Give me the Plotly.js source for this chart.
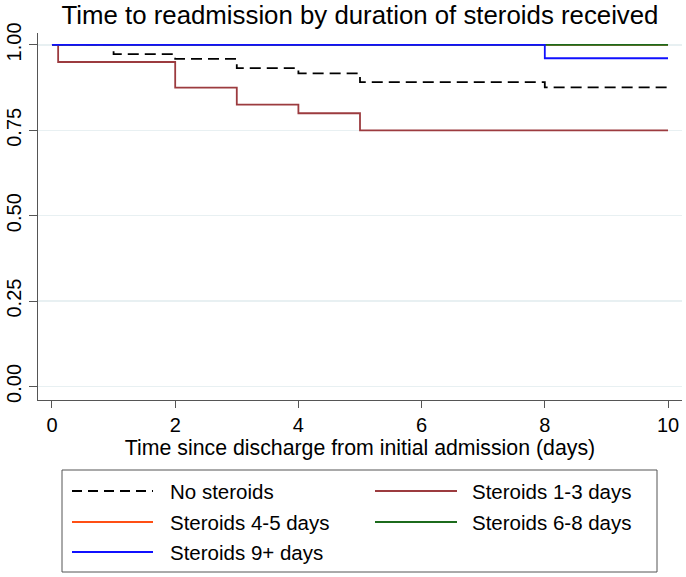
<!DOCTYPE html>
<html>
<head>
<meta charset="utf-8">
<script src="https://cdn.plot.ly/plotly-3.0.1.min.js"></script>
<style>html,body{margin:0;padding:0;background:#fff;}#chart{width:686px;height:577px;}</style>
</head>
<body>
<div id="chart"></div>
<script>
// ---- data ----
const groupNames = ["No steroids", "Steroids 1-3 days", "Steroids 4-5 days", "Steroids 6-8 days", "Steroids 9+ days"];
const noSteroidsT = [0, 1, 2, 3, 4, 5, 8, 10];
const noSteroidsS = [1, 0.973, 0.959, 0.932, 0.917, 0.891, 0.876, 0.876];
const ster13T = [0, 0.1, 2, 3, 4, 5, 10];
const ster13S = [1, 0.95, 0.875, 0.825, 0.80, 0.75, 0.75];
const ster45T = [0, 10];
const ster45S = [1, 1];
const ster68T = [0, 10];
const ster68S = [1, 1];
const ster9T = [0, 8, 10];
const ster9S = [1, 0.961, 0.961];
const xTicks = [0, 2, 4, 6, 8, 10];
const yTicks = [0, 0.25, 0.5, 0.75, 1];
const yTickLabels = ["0.00", "0.25", "0.50", "0.75", "1.00"];

// ---- styles ----
const colors = ["#000000", "#9c3b3f", "#ff4f14", "#1c6b1c", "#1010ff"];
const dashes = ["11px,6px", "solid", "solid", "solid", "solid"];
const FONT = "Liberation Sans, Arial, Helvetica, sans-serif";

const series = [
  [noSteroidsT, noSteroidsS],
  [ster13T, ster13S],
  [ster45T, ster45S],
  [ster68T, ster68S],
  [ster9T, ster9S]
];

const traces = series.map((s, i) => ({
  type: "scatter",
  mode: "lines",
  x: s[0],
  y: s[1],
  name: groupNames[i],
  line: {shape: "hv", color: colors[i], width: 1.8, dash: dashes[i]},
  showlegend: false,
  hoverinfo: "skip"
}));

// layout geometry
const W = 686, H = 577;
const M = {l: 38, r: 4, t: 33, b: 177};
const pw = W - M.l - M.r, ph = H - M.t - M.b;
const px = v => (v - M.l) / pw;
const py = v => (H - M.b - v) / ph;

// manual legend (Stata style)
const shapes = [{
  type: "rect", xref: "paper", yref: "paper",
  x0: px(62), x1: px(657), y0: py(572), y1: py(470),
  line: {color: "#555555", width: 1}, fillcolor: "rgba(0,0,0,0)"
}];
const annotations = [];
const legPos = [[72, 153, 168, 491], [375, 457, 470, 491], [72, 153, 168, 522], [375, 457, 470, 522], [72, 153, 168, 552]];
groupNames.forEach((nm, i) => {
  const p = legPos[i];
  shapes.push({
    type: "line", xref: "paper", yref: "paper",
    x0: px(p[0]), x1: px(p[1]), y0: py(p[3]), y1: py(p[3]),
    line: {color: colors[i], width: 1.8, dash: dashes[i] === "solid" ? "solid" : "10px,6px"}
  });
  annotations.push({
    xref: "paper", yref: "paper", x: px(p[2]), y: py(p[3]),
    xanchor: "left", yanchor: "middle", showarrow: false,
    text: nm, font: {family: FONT, size: 20.5, color: "#000"}
  });
});

const layout = {
  width: W, height: H,
  margin: M,
  paper_bgcolor: "#ffffff",
  plot_bgcolor: "#ffffff",
  font: {family: FONT, color: "#000"},
  title: {
    text: "Time to readmission by duration of steroids received",
    font: {family: FONT, size: 25.8, color: "#000"},
    x: 0.5, xref: "paper", xanchor: "center",
    y: 1 - 15 / H, yref: "container", yanchor: "middle"
  },
  xaxis: {
    range: [-0.227, 10.227],
    tickvals: xTicks,
    ticks: "outside", ticklen: 7, tickcolor: "#555", tickwidth: 1,
    showline: true, linecolor: "#555", linewidth: 1,
    showgrid: false, zeroline: false,
    tickfont: {family: FONT, size: 20, color: "#000"},
    title: {text: "Time since discharge from initial admission (days)", font: {family: FONT, size: 21.3, color: "#000"}, standoff: 4}
  },
  yaxis: {
    range: [-0.0398, 1.035],
    tickvals: yTicks, ticktext: yTickLabels,
    tickangle: -90,
    ticks: "outside", ticklen: 8, tickcolor: "#555", tickwidth: 1,
    showline: true, linecolor: "#555", linewidth: 1,
    showgrid: true, gridcolor: "#e8f0f2", gridwidth: 1.5,
    zeroline: false,
    tickfont: {family: FONT, size: 20, color: "#000"}
  },
  shapes: shapes,
  annotations: annotations,
  showlegend: false
};

Plotly.newPlot("chart", traces, layout, {displayModeBar: false, staticPlot: true});
</script>
</body>
</html>
